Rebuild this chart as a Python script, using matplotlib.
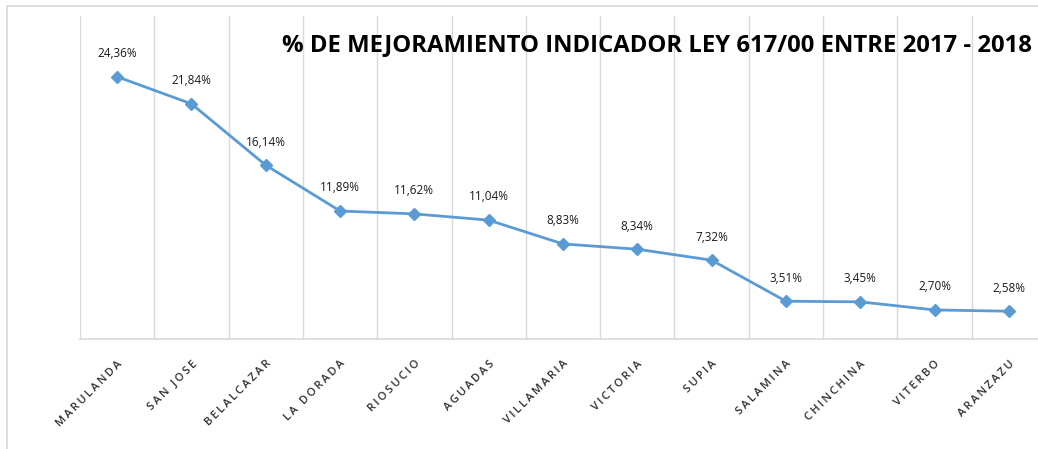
import numpy as np
import matplotlib.pyplot as plt
from matplotlib.patches import Rectangle

# data
municipios = ["MARULANDA", "SAN JOSE", "BELALCAZAR", "LA DORADA", "RIOSUCIO", "AGUADAS",
              "VILLAMARIA", "VICTORIA", "SUPIA", "SALAMINA", "CHINCHINA", "VITERBO", "ARANZAZU"]
mejora = [24.36, 21.84, 16.14, 11.89, 11.62, 11.04, 8.83, 8.34, 7.32, 3.51, 3.45, 2.70, 2.58]
etiquetas = ["24,36%", "21,84%", "16,14%", "11,89%", "11,62%", "11,04%", "8,83%", "8,34%",
             "7,32%", "3,51%", "3,45%", "2,70%", "2,58%"]
titulo = "% DE MEJORAMIENTO INDICADOR LEY 617/00 ENTRE 2017 - 2018"

W, H = 1038, 449
fig = plt.figure(figsize=(W/100, H/100), dpi=100)

# chart border (cut off at right/bottom like the screenshot)
fig.patches.append(Rectangle((7/W, -0.1), 1.2, (H-6)/H + 0.1, transform=fig.transFigure,
                             fill=False, edgecolor="#D9D9D9", lw=1.2))

ax = fig.add_axes([80/W, 110/H, 966/W, 323/H])
x = np.arange(len(municipios))
ax.plot(x, mejora, color="#5B9BD5", lw=2, marker="D", ms=6, clip_on=False)

for xi, yi, t in zip(x, mejora, etiquetas):
    ax.annotate(t, (xi, yi), xytext=(0, 12), textcoords="offset points", ha="center",
                va="bottom", fontsize=8.5, color="#1a1a1a", family=["Open Sans", "DejaVu Sans"])

ax.set_xlim(-0.5, len(municipios) - 0.5)
ax.set_ylim(0, 30)
ax.set_yticks([])
ax.set_xticks(np.arange(-0.5, len(municipios), 1), minor=True)
ax.grid(which="minor", axis="x", color="#D9D9D9", lw=1)
ax.tick_params(which="both", length=0)
for s in ["top", "right", "left"]:
    ax.spines[s].set_visible(False)
ax.spines["bottom"].set_color("#D9D9D9")
ax.spines["bottom"].set_linewidth(1.2)

ax.set_xticks(x)
spaced = ["\u2009".join(list(m)) for m in municipios]
ax.set_xticklabels(spaced, rotation=45, ha="right", rotation_mode="anchor", fontsize=8,
                   color="#303030", fontweight="semibold", family=["Open Sans", "DejaVu Sans"])
ax.tick_params(axis="x", pad=14)

fig.text(282/W, 1 - 45/H, titulo, ha="left", va="center", fontsize=17.2, fontweight="bold",
         color="black", family=["Open Sans", "DejaVu Sans"])

fig.savefig("out.png", dpi=100, facecolor="white")
